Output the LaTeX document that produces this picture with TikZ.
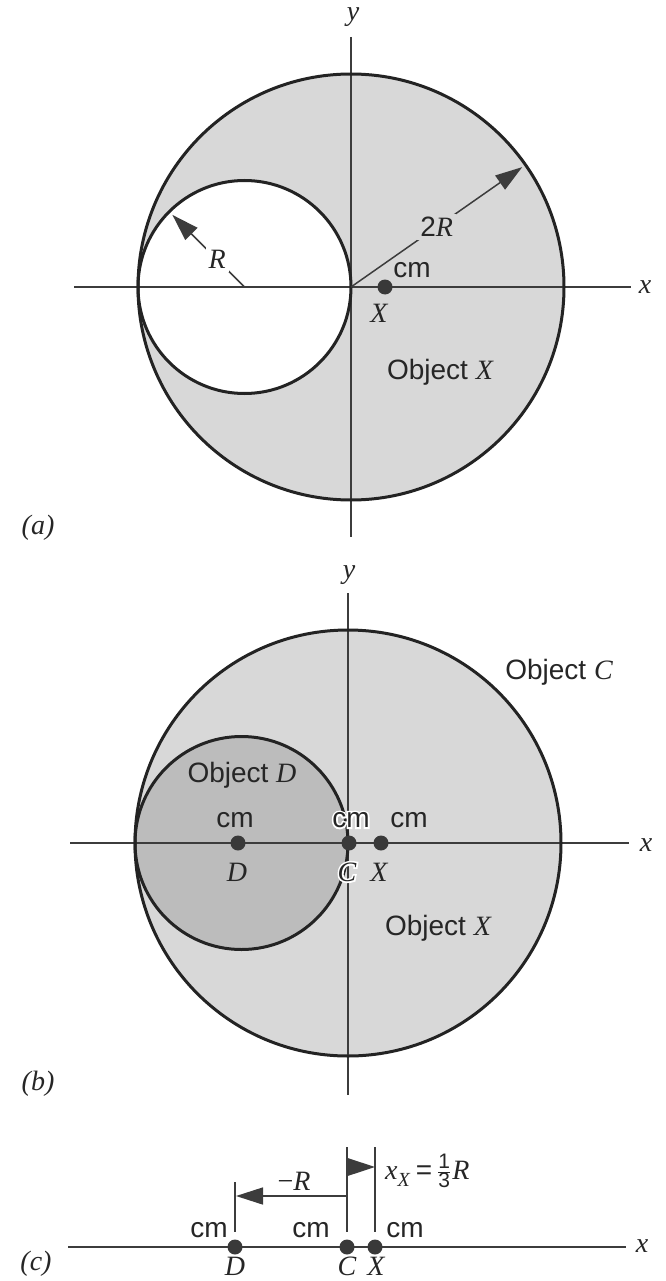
\documentclass[tikz,border=0pt]{standalone}
\usepackage{fontspec}
\setmainfont{Liberation Sans}
\newfontfamily\tms{Liberation Serif}
\newfontfamily\halosans[FakeBold=12]{Liberation Sans}
\newfontfamily\halotms[FakeBold=12,ItalicFeatures={FakeBold=12}]{Liberation Serif}
\usetikzlibrary{arrows.meta,calc}
\definecolor{fillX}{RGB}{216,216,216}
\definecolor{fillD}{RGB}{188,188,188}
\definecolor{ink}{RGB}{35,35,35}
\definecolor{axisc}{RGB}{60,60,60}
\newcommand{\iv}[1]{{\tms\itshape #1}}
\begin{document}
\begin{tikzpicture}[x=1pt,y=-1pt,
  outline/.style={draw=ink,line width=3pt},
  axisline/.style={draw=axisc,line width=1.5pt},
  lbl/.style={font=\fontsize{28}{30}\selectfont,text=black!85,inner sep=0pt},
  dot/.style={circle,fill=ink!90,minimum size=15pt,inner sep=0pt},
  arr/.style={draw=axisc,line width=1.5pt,-{Triangle[length=27pt,width=17pt]}},
  halo/.style={font=\fontsize{28}{30}\selectfont,text=white,inner sep=0pt},
]
\useasboundingbox (0,0) rectangle (665,1281);

% ---------------- panel (a)
\coordinate (aO) at (351,287);
\coordinate (aS) at (244.5,287);
\fill[fillX] (aO) circle[radius=213pt];
\fill[white] (aS) circle[radius=106.5pt];
\coordinate (axL) at (74,287);
\coordinate (axR) at (631,287);
\coordinate (ayT) at (351,37);
\coordinate (ayB) at (351,537);
\draw[axisline] (axL) -- (axR);
\draw[axisline] (ayT) -- (ayB);
\draw[outline] (aO) circle[radius=213pt];
\draw[outline] (aS) circle[radius=106.5pt];
\coordinate (a2Rtip) at ($(aO)+(35:209pt)$);
\draw[arr] (aO) -- node[lbl,fill=fillX,inner sep=3pt,pos=0.5] (a2R) {2\iv{R}} (a2Rtip);
\coordinate (aRtip) at ($(aS)+(135:102pt)$);
\draw[arr] (aS) -- node[lbl,fill=white,inner sep=3pt,pos=0.38] (aR) {\iv{R}} (aRtip);
\node[dot] (aXdot) at (385,287) {};
\node[lbl] (acm) at (412,270) {cm};
\node[lbl] (aXl) at (379,313) {\iv{X}};
\node[lbl] (aobj) at (440,372) {Object \iv{X}};
\node[lbl] (ay) at (353,17) {\iv{y}};
\node[lbl] (ax) at (645,287) {\iv{x}};
\node[lbl] (alab) at (38,528) {\iv{(a)}};

% ---------------- panel (b)
\coordinate (bO) at (348,843);
\coordinate (bS) at (241.5,843);
\fill[fillX] (bO) circle[radius=213pt];
\fill[fillD] (bS) circle[radius=106.5pt];
\coordinate (bxL) at (70,843);
\coordinate (bxR) at (629,843);
\coordinate (byT) at (348,593);
\coordinate (byB) at (348,1095);
\draw[axisline] (bxL) -- (bxR);
\draw[axisline] (byT) -- (byB);
\draw[outline] (bO) circle[radius=213pt];
\draw[outline] (bS) circle[radius=106.5pt];
\node[dot] (bDdot) at (238,843) {};
\node[dot] (bCdot) at (349,843) {};
\node[dot] (bXdot) at (381,843) {};
\node[lbl] (bcmD) at (235,820) {cm};
\node[lbl] (bDl) at (237,872) {\iv{D}};
\node[halo] (bcmCh) at (351,820) {\halosans cm};
\node[halo] (bClh) at (347,872) {\halotms\itshape C};
\node[lbl] (bcmC) at (351,820) {cm};
\node[lbl] (bCl) at (347,872) {\iv{C}};
\node[lbl] (bcmX) at (409,820) {cm};
\node[lbl] (bXl) at (379,872) {\iv{X}};
\node[lbl] (bobjD) at (242,775) {Object \iv{D}};
\node[lbl] (bobjC) at (559,672) {Object \iv{C}};
\node[lbl] (bobjX) at (438,928) {Object \iv{X}};
\node[lbl] (by) at (349,575) {\iv{y}};
\node[lbl] (bx) at (646,845) {\iv{x}};
\node[lbl] (blab) at (38,1084) {\iv{(b)}};

% ---------------- panel (c)
\coordinate (cxL) at (68,1247);
\coordinate (cxR) at (626,1247);
\draw[axisline] (cxL) -- (cxR);
\coordinate (cDtop) at (235,1182);
\coordinate (cDbot) at (235,1232);
\coordinate (cCtop) at (347,1147);
\coordinate (cCbot) at (347,1232);
\coordinate (cXtop) at (375,1147);
\coordinate (cXbot) at (375,1232);
\draw[axisline] (cDtop) -- (cDbot);
\draw[axisline] (cCtop) -- (cCbot);
\draw[axisline] (cXtop) -- (cXbot);
\coordinate (cRs) at (347,1196);
\coordinate (cRe) at (236,1196);
\draw[arr] (cRs) -- (cRe);
\coordinate (cxs) at (346,1167);
\coordinate (cxe) at (375,1167);
\draw[arr,-{Triangle[length=28pt,width=18pt]}] (cxs) -- (cxe);
\node[dot] (cDdot) at (235,1247) {};
\node[dot] (cCdot) at (347,1247) {};
\node[dot] (cXdot) at (375,1247) {};
\node[lbl] (cmR) at (294,1181) {{\tms −}\iv{R}};
\node[lbl,anchor=west] (cxX) at (385,1171) {\iv{x}\raisebox{-7pt}{\fontsize{20}{22}\selectfont\iv{X}}\hspace{6pt}=\hspace{5pt}\raisebox{1pt}{$\frac{\mbox{\fontsize{21}{22}\selectfont 1}}{\mbox{\fontsize{21}{22}\selectfont 3}}$}\hspace{1pt}\iv{R}};
\node[lbl] (ccmD) at (209,1230) {cm};
\node[lbl] (ccmC) at (311,1230) {cm};
\node[lbl] (ccmX) at (405,1230) {cm};
\node[lbl] (cDl) at (235,1266) {\iv{D}};
\node[lbl] (cCl) at (347,1266) {\iv{C}};
\node[lbl] (cXl) at (376,1266) {\iv{X}};
\node[lbl] (cx) at (642,1246) {\iv{x}};
\node[lbl] (clab) at (36,1264) {\iv{(c)}};
\end{tikzpicture}
\end{document}
